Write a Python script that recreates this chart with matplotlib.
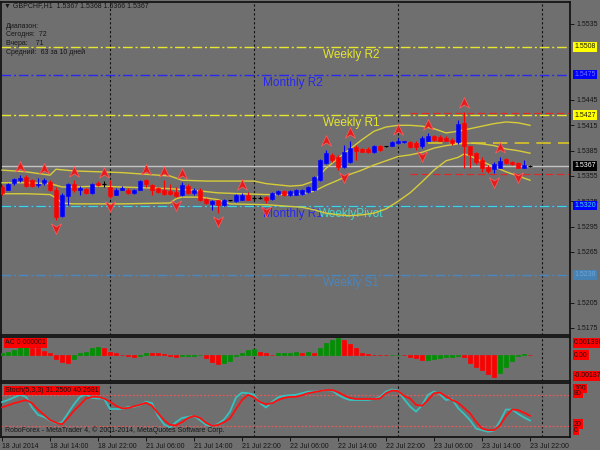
import matplotlib
matplotlib.use("Agg")
import matplotlib.pyplot as plt
import matplotlib.transforms as mtransforms
from matplotlib.path import Path

plt.rcParams['font.family'] = ['Liberation Sans', 'DejaVu Sans']

# ---------------- data (GBPCHF H1, 18 Jul 06:00 .. 23 Jul 22:00) ----------------
opens = [1.5342, 1.5339, 1.5347, 1.5350, 1.5354, 1.5350, 1.5344, 1.5347, 1.5348, 1.5338,
         1.5308, 1.5331, 1.5346, 1.5338, 1.5340, 1.5335, 1.5347, 1.5346, 1.5342, 1.5333,
         1.5339, 1.5339, 1.5335, 1.5339, 1.5350, 1.5344, 1.5341, 1.5338, 1.5337, 1.5336,
         1.5332, 1.5343, 1.5335, 1.5338, 1.5328, 1.5322, 1.5326, 1.5321, 1.5326, 1.5325,
         1.5327, 1.5333, 1.5329, 1.5329, 1.5330, 1.5328, 1.5334, 1.5337, 1.5332, 1.5333,
         1.5334, 1.5336, 1.5338, 1.5350, 1.5370, 1.5380, 1.5378, 1.5366, 1.5372, 1.5389,
         1.5387, 1.5387, 1.5383, 1.5390, 1.5390, 1.5391, 1.5394, 1.5395, 1.5395, 1.5394,
         1.5390, 1.5397, 1.5402, 1.5401, 1.5400, 1.5398, 1.5395, 1.5418, 1.5390, 1.5382,
         1.5374, 1.5366, 1.5363, 1.5365, 1.5375, 1.5371, 1.5370, 1.5365, 1.5367]
highs = [1.5344, 1.5347, 1.5353, 1.5356, 1.5356, 1.5352, 1.5353, 1.5353, 1.5350, 1.5342,
         1.5335, 1.5347, 1.5350, 1.5343, 1.5341, 1.5347, 1.5349, 1.5349, 1.5350, 1.5341,
         1.5343, 1.5341, 1.5340, 1.5350, 1.5352, 1.5345, 1.5342, 1.5350, 1.5346, 1.5342,
         1.5348, 1.5345, 1.5341, 1.5341, 1.5329, 1.5326, 1.5327, 1.5328, 1.5327, 1.5334,
         1.5335, 1.5336, 1.5331, 1.5331, 1.5331, 1.5336, 1.5339, 1.5339, 1.5338, 1.5340,
         1.5340, 1.5343, 1.5355, 1.5375, 1.5386, 1.5382, 1.5380, 1.5392, 1.5396, 1.5392,
         1.5388, 1.5389, 1.5392, 1.5392, 1.5391, 1.5397, 1.5400, 1.5397, 1.5397, 1.5396,
         1.5402, 1.5406, 1.5404, 1.5403, 1.5402, 1.5400, 1.5421, 1.5431, 1.5391, 1.5384,
         1.5378, 1.5368, 1.5371, 1.5378, 1.5376, 1.5373, 1.5371, 1.5374, 1.5368]
lows = [1.5333, 1.5338, 1.5344, 1.5348, 1.5342, 1.5342, 1.5342, 1.5344, 1.5337, 1.5303,
        1.5306, 1.5321, 1.5336, 1.5333, 1.5334, 1.5334, 1.5343, 1.5342, 1.5329, 1.5332,
        1.5338, 1.5334, 1.5334, 1.5338, 1.5342, 1.5333, 1.5335, 1.5332, 1.5332, 1.5330,
        1.5331, 1.5334, 1.5332, 1.5325, 1.5322, 1.5315, 1.5311, 1.5320, 1.5325, 1.5324,
        1.5326, 1.5326, 1.5327, 1.5328, 1.5323, 1.5327, 1.5332, 1.5331, 1.5331, 1.5332,
        1.5333, 1.5335, 1.5337, 1.5349, 1.5369, 1.5372, 1.5362, 1.5364, 1.5370, 1.5374,
        1.5383, 1.5382, 1.5382, 1.5385, 1.5389, 1.5390, 1.5393, 1.5394, 1.5388, 1.5386,
        1.5388, 1.5396, 1.5397, 1.5396, 1.5396, 1.5392, 1.5393, 1.5364, 1.5364, 1.5369,
        1.5360, 1.5359, 1.5358, 1.5364, 1.5369, 1.5368, 1.5364, 1.5364, 1.5366]
closes = [1.5335, 1.5346, 1.5351, 1.5353, 1.5343, 1.5343, 1.5345, 1.5350, 1.5338, 1.5307,
          1.5333, 1.5346, 1.5338, 1.5341, 1.5335, 1.5346, 1.5344, 1.5346, 1.5331, 1.5339,
          1.5341, 1.5335, 1.5339, 1.5349, 1.5345, 1.5338, 1.5336, 1.5334, 1.5334, 1.5331,
          1.5344, 1.5335, 1.5338, 1.5327, 1.5323, 1.5325, 1.5321, 1.5327, 1.5326, 1.5333,
          1.5333, 1.5327, 1.5329, 1.5329, 1.5327, 1.5335, 1.5337, 1.5332, 1.5337, 1.5338,
          1.5338, 1.5342, 1.5354, 1.5374, 1.5382, 1.5374, 1.5366, 1.5384, 1.5388, 1.5385,
          1.5384, 1.5383, 1.5391, 1.5386, 1.5390, 1.5395, 1.5396, 1.5396, 1.5389, 1.5389,
          1.5400, 1.5402, 1.5398, 1.5397, 1.5397, 1.5394, 1.5417, 1.5390, 1.5380, 1.5372,
          1.5364, 1.5361, 1.5369, 1.5373, 1.5370, 1.5369, 1.5365, 1.5368, 1.5367]

up_fractals = [3, 7, 12, 17, 24, 27, 30, 40, 54, 58, 66, 71, 77, 83]
down_fractals = [9, 18, 29, 36, 44, 57, 70, 82, 86]

band_upper_bars = [0, 4, 8, 9, 12, 16, 20, 24, 28, 30, 34, 38, 42, 44, 48, 50, 52, 54, 56, 58,
                   60, 62, 64, 66, 68, 70, 72, 74, 76, 78, 80, 82, 84, 86, 88]
band_upper = [1.5362, 1.5360, 1.5356, 1.5363, 1.5361, 1.5360, 1.5359, 1.5357, 1.5355, 1.5350,
              1.5349, 1.5349, 1.5349, 1.5346, 1.5343, 1.5344, 1.5349, 1.5364, 1.5376, 1.5387,
              1.5398, 1.5408, 1.5413, 1.5415, 1.5415, 1.5414, 1.5411, 1.5406, 1.5408, 1.5411,
              1.5414, 1.5417, 1.5419, 1.5418, 1.5415]
band_mid_bars = [0, 4, 8, 10, 12, 16, 20, 24, 28, 32, 36, 40, 44, 48, 50, 52, 54, 56, 58, 60,
                 62, 64, 66, 68, 70, 72, 74, 76, 78, 80, 82, 84, 86, 88]
band_mid = [1.5347, 1.5347, 1.5346, 1.5342, 1.5342, 1.5343, 1.5342, 1.5341, 1.5340, 1.5338,
            1.5335, 1.5334, 1.5333, 1.5333, 1.5334, 1.5337, 1.5344, 1.5350, 1.5357, 1.5362,
            1.5368, 1.5373, 1.5378, 1.5380, 1.5383, 1.5388, 1.5391, 1.5393, 1.5394, 1.5393,
            1.5391, 1.5387, 1.5385, 1.5382]
band_lower_bars = [0, 4, 8, 9, 10, 12, 20, 28, 29, 30, 33, 36, 38, 44, 50, 52, 54, 56, 58, 60,
                   62, 64, 66, 68, 70, 72, 74, 76, 77, 78, 80, 82, 84, 86, 88]
band_lower = [1.5334, 1.5334, 1.5333, 1.5329, 1.5323, 1.5322, 1.5322, 1.5323, 1.5328, 1.5330,
              1.5330, 1.5327, 1.5322, 1.5321, 1.5318, 1.5315, 1.5311, 1.5309, 1.5308, 1.5309,
              1.5311, 1.5316, 1.5325, 1.5335, 1.5348, 1.5362, 1.5373, 1.5377, 1.5381, 1.5379,
              1.5372, 1.5366, 1.5360, 1.5355, 1.5350]

pivot_names = ['Weekly R2', 'Monthly R2', 'Weekly R1', 'Monthly R1', 'WeeklyPivot', 'Weekly S1']
pivot_values = [1.5508, 1.5475, 1.5427, 1.5320, 1.5320, 1.5238]
pivot_label_bars = [53.5, 43.5, 53.5, 43.5, 52.8, 53.5]

red_levels = [1.5430, 1.5357]
red_levels_from = 68
yellow_level = 1.5394
yellow_level_from = 71
last_price = 1.5367

price_ticks = [1.5535, 1.5445, 1.5415, 1.5385, 1.5355, 1.5325, 1.5295, 1.5265, 1.5205, 1.5175]

ac_values = [0.19, 0.28, 0.42, 0.62, 0.66, 0.62, 0.55, 0.36, 0.19, -0.36,
             -0.55, -0.64, -0.36, 0.19, 0.28, 0.55, 0.69, 0.55, 0.28, 0.14,
             0.03, -0.08, -0.14, -0.08, 0.19, 0.18, 0.14, 0.08, -0.08, -0.14,
             -0.12, -0.10, -0.06, -0.04, -0.28, -0.55, -0.75, -0.69, -0.47, -0.08,
             0.19, 0.42, 0.47, 0.28, 0.14, -0.03, 0.14, 0.15, 0.19, 0.25,
             0.20, 0.21, 0.18, 0.55, 1.00, 1.27, 1.396, 1.27, 0.95, 0.55,
             0.14, 0.06, 0.03, 0.02, 0.01, 0.02, 0.03, 0.01, -0.14, -0.27,
             -0.46, -0.40, -0.35, -0.27, -0.19, -0.14, -0.08, -0.14, -0.68, -1.00,
             -1.27, -1.62, -1.87, -1.48, -1.00, -0.54, -0.10, 0.05, 0.01]  # x 1e-4

stoch_main = [66, 70, 75, 80, 76, 56, 42, 38, 31, 26, 28, 45, 62, 76, 81, 74, 73, 73, 53, 53,
              53, 57, 57, 60, 67, 64, 40, 24, 18, 28, 36, 38, 40, 32, 23, 20, 25, 33, 48, 75,
              84, 83, 80, 64, 56, 66, 75, 78, 79, 80, 83, 86, 86, 87, 89, 88, 80, 74, 70, 70,
              70, 70, 72, 76, 86, 90, 88, 72, 58, 48, 60, 80, 86, 81, 70, 72, 55, 44, 32, 16,
              13, 10, 12, 30, 52, 52, 44, 37, 31.25]
stoch_signal = [56, 60, 64, 67, 70, 64, 52, 42, 32, 27, 24, 36, 50, 61, 73, 76, 76, 73, 67, 59,
                54, 55, 58, 61, 65, 59, 45, 32, 23, 22, 28, 36, 40, 36, 27, 21, 23, 28, 35, 53,
                70, 80, 75, 66, 62, 64, 70, 74, 76, 76, 79, 83, 85, 87, 89, 89, 85, 79, 74, 72,
                72, 72, 72, 73, 83, 88, 87, 78, 73, 61, 59, 70, 83, 84, 77, 70, 65, 55, 45, 29,
                16, 13, 13, 22, 40, 52, 51, 46, 40.27]

date_bars = [0, 8, 16, 24, 32, 40, 48, 56, 64, 72, 80, 88]
date_labels = ['18 Jul 2014', '18 Jul 14:00', '18 Jul 22:00', '21 Jul 06:00', '21 Jul 14:00',
               '21 Jul 22:00', '22 Jul 06:00', '22 Jul 14:00', '22 Jul 22:00', '23 Jul 06:00',
               '23 Jul 14:00', '23 Jul 22:00']
day_breaks = [18, 42, 66, 90]

# ---------------- style ----------------
W, H = 600, 450
BG = '#6f6f6f'
TXT = '#161616'
BULL = '#0000ff'
BEAR = '#ff0000'
YEL = '#e6e62e'
BAND = '#d6cc3a'
MBLUE = '#2828f0'
CYAN = '#3fd9d0'
STEEL = '#4a86bf'
LEFT, RIGHT = 1, 570
PXB = 6.0
X0 = -(2 - LEFT) / PXB

fig = plt.figure(figsize=(6, 4.5), dpi=100)
fig.patch.set_facecolor(BG)


def panel(top, bottom):
    ax = fig.add_axes([LEFT / W, 1 - bottom / H, (RIGHT - LEFT) / W, (bottom - top) / H])
    ax.set_facecolor(BG)
    for s in ax.spines.values():
        s.set_color('#151515')
        s.set_linewidth(1.3)
    ax.set_xlim(X0, X0 + (RIGHT - LEFT) / PXB)
    ax.tick_params(axis='x', bottom=False, labelbottom=False)
    ax.yaxis.tick_right()
    ax.tick_params(axis='y', length=3, width=0.7, colors=TXT, labelsize=5, pad=2)
    for b in day_breaks:
        ax.axvline(b, color='#111111', lw=0.8, ls=(0, (2, 2)), zorder=1)
    return ax


def right_box(ax, y, text, fc, tc, frac=False):
    tr = mtransforms.blended_transform_factory(ax.transAxes, ax.transAxes if frac else ax.transData)
    ax.text(1 + 4 / (RIGHT - LEFT), y, text, transform=tr, ha='left', va='center', fontsize=5,
            color=tc, clip_on=False, zorder=10,
            bbox=dict(boxstyle='square,pad=0.18', fc=fc, ec='none'))


# ---------------- main price panel ----------------
ax = panel(2, 335)
ax.set_ylim(1.5535 - (335 - 24) / 8444, 1.5535 + 22 / 8444)
ax.set_yticks(price_ticks)
ax.set_yticklabels(['%.4f' % v for v in price_ticks])

styles = {'Weekly R2': (YEL, YEL), 'Monthly R2': (MBLUE, MBLUE), 'Weekly R1': (YEL, YEL),
          'Monthly R1': (MBLUE, MBLUE), 'WeeklyPivot': (CYAN, CYAN), 'Weekly S1': (STEEL, STEEL)}
for name, val, xb in zip(pivot_names, pivot_values, pivot_label_bars):
    lc, tc = styles[name]
    ax.axhline(val, color=lc, lw=1.0, ls=(0, (7, 2, 1.5, 2)), zorder=2)
    ax.annotate(name, (xb, val), xytext=(0, -1.5), textcoords='offset points', ha='left',
                va='top', fontsize=8.5, color=tc, zorder=3)

ax.axhline(last_price, color='#c4c4c4', lw=1.0, zorder=2)
for lv in red_levels:
    ax.hlines(lv, red_levels_from, 100, color='#e02828', lw=0.9, ls=(0, (6, 3)), zorder=2)
ax.hlines(yellow_level, yellow_level_from, 100, color='#d2be2a', lw=1.3, ls=(0, (8, 4)), zorder=2)

ax.plot(band_upper_bars, band_upper, color=BAND, lw=1.0, zorder=3)
ax.plot(band_mid_bars, band_mid, color=BAND, lw=1.0, zorder=3)
ax.plot(band_lower_bars, band_lower, color=BAND, lw=1.0, zorder=3)

for i, (o, h, l, c) in enumerate(zip(opens, highs, lows, closes)):
    col = BULL if c > o else (BEAR if c < o else '#000000')
    ax.vlines(i, l, h, color=col, lw=0.8, zorder=4)
    if c == o:
        ax.hlines(c, i - 0.33, i + 0.33, color=col, lw=0.8, zorder=5)
    else:
        ax.bar(i, abs(c - o), bottom=min(o, c), width=0.66, color=col, ec=col, lw=0.4, zorder=5)

arrow_up = Path([(0, 1), (-0.85, -0.8), (0, -0.25), (0.85, -0.8), (0, 1)],
                [Path.MOVETO, Path.LINETO, Path.LINETO, Path.LINETO, Path.CLOSEPOLY])
arrow_dn = Path([(0, -1), (-0.85, 0.8), (0, 0.25), (0.85, 0.8), (0, -1)],
                [Path.MOVETO, Path.LINETO, Path.LINETO, Path.LINETO, Path.CLOSEPOLY])
up_tr = mtransforms.offset_copy(ax.transData, fig=fig, y=6, units='points')
dn_tr = mtransforms.offset_copy(ax.transData, fig=fig, y=-6, units='points')
ax.plot(up_fractals, [highs[i] for i in up_fractals], ls='none', marker=arrow_up, ms=8.5,
        mfc='#e41c1c', mec='#ff6060', mew=0.5, transform=up_tr, zorder=6)
ax.plot(down_fractals, [lows[i] for i in down_fractals], ls='none', marker=arrow_dn, ms=8.5,
        mfc='#e41c1c', mec='#ff6060', mew=0.5, transform=dn_tr, zorder=6)

right_box(ax, 1.5508, '1.5508', '#ffff00', '#202000')
right_box(ax, 1.5475, '1.5475', '#0000ff', '#7070ff')
right_box(ax, 1.5427, '1.5427', '#ffff00', '#202000')
right_box(ax, last_price, '1.5367', '#000000', '#ffffff')
right_box(ax, 1.5320, '1.5320', '#0000ff', '#40e0e0')
right_box(ax, 1.5238, '1.5238', '#4682b4', '#6fa4d8')

# chart header
fig.text(4 / W, 1 - 6 / H, '\u25bc GBPCHF,H1  1.5367 1.5368 1.5366 1.5367', fontsize=5,
         color=TXT, va='center', ha='left')
for ypx, s in zip([26, 34.5, 43.5, 52.5],
                  ['Диапазон:', 'Сегодня:  72', 'Вчера:    71', 'Средний:  63 за 10 дней']):
    fig.text(6 / W, 1 - ypx / H, s, fontsize=5, color=TXT, va='center', ha='left')

# ---------------- AC panel ----------------
ac = panel(337, 381)
ac.set_ylim(-(381 - 355) / 11.95e4, (355 - 337) / 11.95e4)
ac.set_yticks([])
ac_cols = ['#009000' if (i == 0 or v > ac_values[i - 1]) else '#ff0000'
           for i, v in enumerate(ac_values)]
ac.bar(range(len(ac_values)), [v * 1e-4 for v in ac_values], width=0.66, color=ac_cols,
       ec=ac_cols, lw=0.5, zorder=3)
ac.text(4 / 569, 0.87, 'AC 0.000001', transform=ac.transAxes, fontsize=5, color=TXT,
        va='center', ha='left', bbox=dict(boxstyle='square,pad=0.2', fc='#ff0000', ec='none'))
right_box(ac, 0.864, '0.001396', '#ff0000', TXT, frac=True)
right_box(ac, 0.59, '0.00', '#ff0000', TXT, frac=True)
right_box(ac, 0.114, '-0.00187', '#ff0000', TXT, frac=True)

# ---------------- Stochastic panel ----------------
st = panel(383, 437)
st.set_ylim(0, (437 - 383) / 0.528)
st.set_yticks([])
for lv in (80, 20):
    st.axhline(lv, color='#e85a5a', lw=0.9, ls=(0, (1.5, 1.5)), zorder=2)
st.plot(range(len(stoch_main)), stoch_main, color='#36c2c0', lw=1.3, zorder=3)
st.plot(range(len(stoch_signal)), stoch_signal, color='#ff1010', lw=1.3, zorder=4)
st.text(4 / 569, 0.86, 'Stoch(5,3,3) 31.2500 40.2691', transform=st.transAxes, fontsize=5,
        color=TXT, va='center', ha='left',
        bbox=dict(boxstyle='square,pad=0.2', fc='#ff0000', ec='none'))
st.text(4 / 569, 0.13, 'RoboForex - MetaTrader 4, \u00a9 2001-2014, MetaQuotes Software Corp.',
        transform=st.transAxes, fontsize=5, color=TXT, va='center', ha='left')
for yf, s in zip([0.9, 0.81, 0.24, 0.12], ['100', '80', '20', '0']):
    right_box(st, yf, s, '#ff0000', TXT, frac=True)

st.set_xticks(date_bars)
st.set_xticklabels(date_labels)
st.tick_params(axis='x', bottom=True, labelbottom=True, length=3, width=0.7, colors=TXT,
               labelsize=5, pad=1)
for lbl in st.get_xticklabels():
    lbl.set_ha('left')

fig.savefig('out.png', dpi=100, facecolor=BG)
